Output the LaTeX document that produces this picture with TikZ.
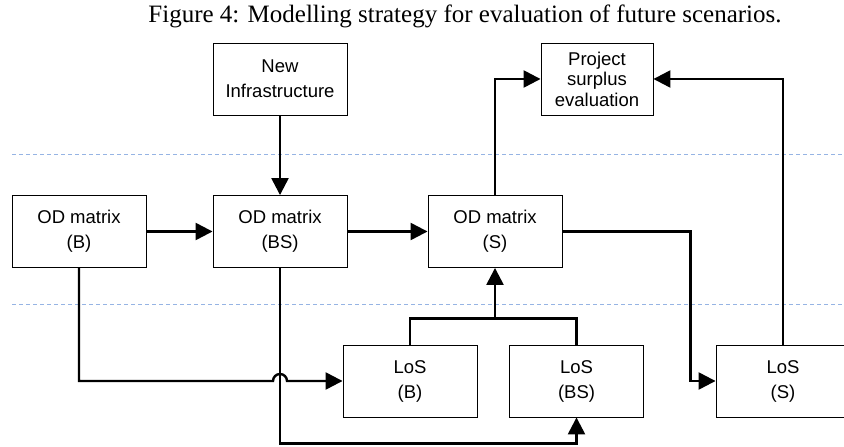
\documentclass[tikz,border=0pt]{standalone}
\usepackage{fontspec}
\setmainfont{Liberation Serif}
\setsansfont{Liberation Sans}
\usepackage{xcolor}
\usepackage{tikz}
\usetikzlibrary{arrows.meta,positioning}
\definecolor{sepblue}{RGB}{150,180,228}

\begin{document}
\begin{tikzpicture}[x=1pt,y=1pt,on grid,>={Triangle[length=17pt,width=17pt]}]
		\tikzstyle{box}=[draw,line width=0.9pt,minimum width=134pt,minimum height=72pt,inner sep=2pt,align=center,font=\sffamily\fontsize{18.5}{25}\selectfont]
		\tikzstyle{flow}=[->,line width=2.4pt]
		\tikzstyle{sep}=[sepblue,line width=1.2pt,dash pattern=on 4pt off 3pt]
		\useasboundingbox (0,0) rectangle (844,447);
		
		\node[anchor=base] (title) at (465,424.3) {\fontsize{25}{29}\selectfont Figure 4: Modelling strategy for evaluation of future scenarios.};
		
		\node[box]                  (odB)    at (79,215.5)                  {OD matrix\\(B)};
		\node[box]                  (odBS)   [right=201pt of odB]           {OD matrix\\(BS)};
		\node[box]                  (odS)    [right=215pt of odBS]          {OD matrix\\(S)};
		\node[box]                  (newinf) [above=152.5pt of odBS]        {New\\Infrastructure};
		\node[box,minimum width=112pt,font=\sffamily\fontsize{18.5}{20.5}\selectfont] (proj) [above right=152.5pt and 102pt of odS] {Project\\surplus\\evaluation};
		\node[box]                  (losB)   [below left=149.5pt and 85pt of odS] {LoS\\(B)};
		\node[box]                  (losBS)  [right=166.5pt of losB]        {LoS\\(BS)};
		\node[box]                  (losS)   [right=206.5pt of losBS]       {LoS\\(S)};
		
		% separators
		\draw[sep] (12,292.5) -- (844,292.5);
		\draw[sep] (12,142.5) -- (844,142.5);
		
		\draw[flow] (newinf) -- (odBS);
		\draw[flow] (odB) -- (odBS);
		\draw[flow] (odBS) -- (odS);
		\draw[flow] (odS.north) |- (proj.west);
		\draw[flow] (losS.north) |- (proj.east);
		\draw[flow] (odS.east) -- ++(128,0) |- (losS.west);
		
		% base scenario LoS, hopping the BS line
		\draw[flow] (odB.south) |- ([xshift=-7pt]odBS.south |- losB.west)
		arc[start angle=180,end angle=0,radius=7pt] -- (losB.west);
		\draw[flow] (odBS.south) |- ([yshift=-26pt]losBS.south) -- (losBS.south);
		
		% LoS (B) and (BS) feed the scenario matrix
		\path (losB.north) ++(0,26) coordinate (split);
		\draw[line width=2.4pt] (losB.north) |- (split) -| (losBS.north);
		\draw[flow] (split -| odS.south) -- (odS.south);
		
\end{tikzpicture}
\end{document}
